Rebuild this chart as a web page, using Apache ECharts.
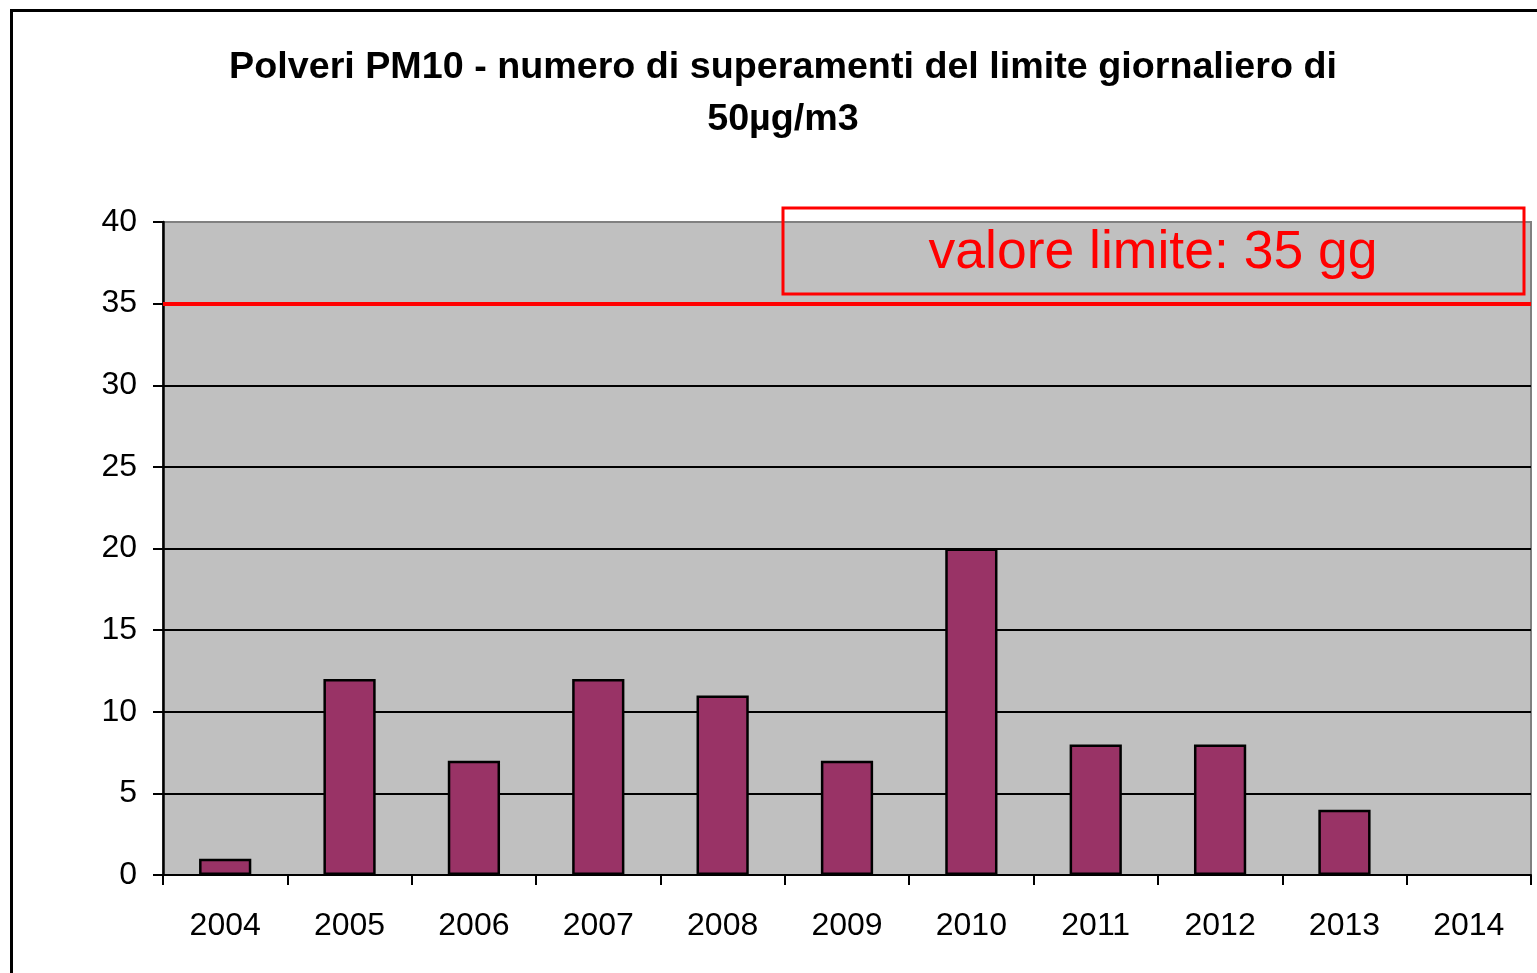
<!DOCTYPE html>
<html>
<head>
<meta charset="utf-8">
<script src="https://cdn.jsdelivr.net/npm/echarts@6/dist/echarts.min.js"></script>
<style>
html,body{margin:0;padding:0;background:#fff;}
#c{width:1537px;height:973px;}
</style>
</head>
<body>
<div id="c"></div>
<script>
const categories = ['2004','2005','2006','2007','2008','2009','2010','2011','2012','2013','2014'];
const exceedances = [1, 12, 7, 12, 11, 7, 20, 8, 8, 4, null];
const limitValue = 35;
const yTicks = [0, 5, 10, 15, 20, 25, 30, 35, 40];
const titleText = 'Polveri PM10 - numero di superamenti del limite giornaliero di\n50µg/m3';
const limitLabel = 'valore limite: 35 gg';

const chart = echarts.init(document.getElementById('c'), null, {renderer: 'canvas'});
const FONT = '"Liberation Sans", Arial, sans-serif';
chart.setOption({
  animation: false,
  backgroundColor: '#ffffff',
  title: {
    text: titleText,
    left: 778,
    textAlign: 'center',
    top: 37,
    textStyle: {fontFamily: FONT, fontWeight: 'bold', fontSize: 37.7, lineHeight: 52, color: '#000'}
  },
  grid: {
    left: 163, right: 6, top: 222, bottom: 98,
    show: true, backgroundColor: '#C0C0C0', borderColor: '#808080', borderWidth: 2
  },
  xAxis: {
    type: 'category',
    data: categories,
    boundaryGap: true,
    axisLine: {show: true, lineStyle: {color: '#000', width: 2}},
    axisTick: {show: true, alignWithLabel: false, length: 10, lineStyle: {color: '#000', width: 2}},
    axisLabel: {fontFamily: FONT, fontSize: 32, color: '#000', margin: 35}
  },
  yAxis: {
    type: 'value',
    min: yTicks[0], max: yTicks[yTicks.length - 1], interval: 5,
    axisLine: {show: true, lineStyle: {color: '#000', width: 2.5}},
    axisTick: {show: true, length: 10, lineStyle: {color: '#000', width: 2}},
    axisLabel: {fontFamily: FONT, fontSize: 32, color: '#000', margin: 26},
    splitLine: {show: true, lineStyle: {color: ['#000','#000','#000','#000','#000','#000','#000','#000','#808080'], width: 2}}
  },
  series: [{
    type: 'bar',
    data: exceedances,
    barWidth: '42%',
    itemStyle: {color: '#993366', borderColor: '#000', borderWidth: 2.5},
    markLine: {
      silent: true,
      symbol: ['none', 'none'],
      label: {show: false},
      lineStyle: {color: '#FF0000', width: 4, type: 'solid'},
      data: [{yAxis: limitValue}]
    }
  }],
  graphic: [
    {type: 'rect', left: 9, top: 8, shape: {width: 1540, height: 980}, style: {fill: 'none', stroke: '#000', lineWidth: 3}, z: 100},
    {type: 'rect', shape: {x: 783, y: 208, width: 741, height: 86}, style: {fill: 'none', stroke: '#FF0000', lineWidth: 3}, z: 100},
    {type: 'text', x: 1153, y: 253, style: {text: limitLabel, fill: '#FF0000', font: '53.5px "Liberation Sans", Arial, sans-serif', textAlign: 'center', textVerticalAlign: 'middle'}, z: 100}
  ]
});
</script>
</body>
</html>
